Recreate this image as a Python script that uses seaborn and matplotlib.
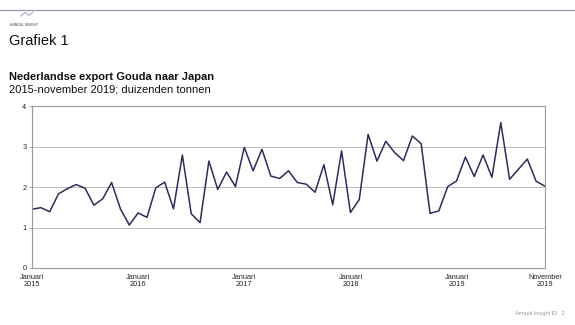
import matplotlib
matplotlib.use("Agg")
import matplotlib.pyplot as plt
import seaborn as sns
import pandas as pd
import numpy as np

# Monthly export, Jan 2015 - Nov 2019 (thousand tonnes)
values = [1.45, 1.49, 1.39, 1.83, 1.96, 2.06, 1.97, 1.55, 1.71, 2.11, 1.46, 1.06,
          1.36, 1.25, 1.98, 2.12, 1.46, 2.79, 1.34, 1.12, 2.64, 1.94, 2.37, 2.01,
          2.98, 2.40, 2.93, 2.27, 2.21, 2.40, 2.11, 2.07, 1.87, 2.55, 1.56, 2.89,
          1.37, 1.69, 3.30, 2.64, 3.13, 2.85, 2.65, 3.26, 3.07, 1.35, 1.41, 2.01,
          2.15, 2.74, 2.26, 2.79, 2.24, 3.59, 2.19, 2.44, 2.69, 2.14, 2.02]
tick_months = [0, 12, 24, 36, 48, 58]
tick_labels = ["Januari\n2015", "Januari\n2016", "Januari\n2017", "Januari\n2018",
               "Januari\n2019", "November\n2019"]
y_ticks = [0, 1, 2, 3, 4]

df = pd.DataFrame({"maand": np.arange(len(values)), "export": values})

sns.set_theme(style="white")
plt.rcParams["font.family"] = ["Liberation Sans", "DejaVu Sans"]

fig = plt.figure(figsize=(5.75, 3.25), dpi=100)
ax = fig.add_axes([32/575, 1-268/325, (545-32)/575, (268-106)/325])

sns.lineplot(data=df, x="maand", y="export", ax=ax, color="#2b2d5c", linewidth=1.1)

ax.set_xlim(0, len(values) - 1)
ax.set_ylim(0, 4)
ax.set_yticks(y_ticks)
ax.set_yticklabels([str(v) for v in y_ticks], fontsize=5.3)
ax.set_xticks(tick_months)
ax.set_xticklabels(tick_labels, fontsize=5.3, linespacing=1.0)
ax.tick_params(axis="both", length=2, pad=2, color="#999999", width=0.6)
ax.tick_params(axis="y", left=True)
ax.tick_params(axis="x", bottom=False)
ax.yaxis.grid(True, color="#bbbbbb", linewidth=0.7)
ax.set_axisbelow(True)
for s in ax.spines.values():
    s.set_color("#9a9a9a")
    s.set_linewidth(0.8)
ax.set_xlabel("")
ax.set_ylabel("")

# Header decorations
fig.add_artist(plt.Line2D([0, 1], [1-9.5/325, 1-9.5/325], color="#8c8cb4", linewidth=0.8))
fig.add_artist(plt.Line2D(np.array([21, 25, 29, 33]) / 575,
                          1 - np.array([16, 12.5, 15.5, 12]) / 325,
                          color="#a8a8c4", linewidth=0.8))
fig.text(10/575, 1-25/325, "ANNUAL INSIGHT", fontsize=2.3, color="#777788",
         va="center", ha="left", fontweight="bold")
fig.text(9/575, 1-41/325, "Grafiek 1", fontsize=10.5, color="#111111",
         va="center", ha="left")
fig.text(9/575, 1-77/325, "Nederlandse export Gouda naar Japan", fontsize=8,
         fontweight="bold", color="#111111", va="center", ha="left")
fig.text(9/575, 1-90/325, "2015-november 2019; duizenden tonnen", fontsize=8,
         color="#111111", va="center", ha="left")
fig.text(565/575, 1-314/325, "Annual Insight ID   2", fontsize=4, color="#999999",
         va="center", ha="right")

fig.savefig("out.png", dpi=100, facecolor="white")
